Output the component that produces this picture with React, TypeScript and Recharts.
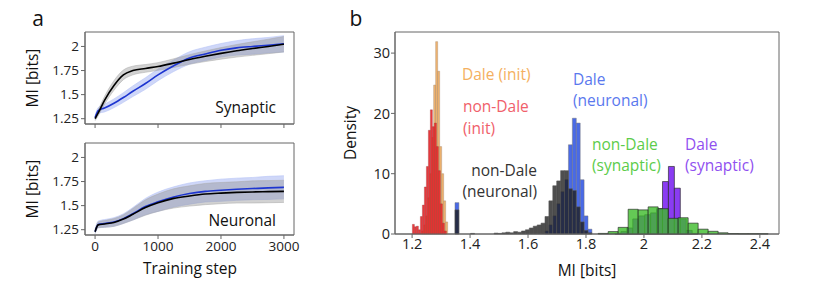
import { ComposedChart, Area, Line, Scatter, XAxis, YAxis, ReferenceArea } from 'recharts';

// ---- panel a: MI during training ----
const STEPS = [0, 50, 150, 300, 450, 600, 800, 1000, 1250, 1500, 1750, 2000, 2250, 2500, 2750, 3000];

const SYN_NONDALE = [1.25, 1.31, 1.44, 1.595, 1.705, 1.75, 1.772, 1.792, 1.827, 1.865, 1.898, 1.928, 1.955, 1.978, 2.0, 2.023];
const SYN_DALE = [1.26, 1.335, 1.36, 1.41, 1.47, 1.535, 1.615, 1.705, 1.8, 1.88, 1.922, 1.96, 1.985, 2.0, 2.013, 2.027];
const SYN_NONDALE_SD = [0.02, 0.03, 0.04, 0.05, 0.05, 0.045, 0.04, 0.04, 0.045, 0.05, 0.055, 0.06, 0.065, 0.07, 0.075, 0.08];
const SYN_DALE_SD = [0.02, 0.03, 0.04, 0.045, 0.05, 0.055, 0.06, 0.06, 0.06, 0.065, 0.07, 0.07, 0.075, 0.08, 0.08, 0.085];

const NEU_NONDALE = [1.23, 1.3, 1.31, 1.325, 1.36, 1.41, 1.48, 1.53, 1.575, 1.6, 1.62, 1.63, 1.637, 1.642, 1.645, 1.648];
const NEU_DALE = [1.23, 1.305, 1.315, 1.33, 1.365, 1.415, 1.49, 1.54, 1.59, 1.625, 1.648, 1.66, 1.67, 1.677, 1.684, 1.69];
const NEU_NONDALE_SD = [0.02, 0.03, 0.035, 0.04, 0.045, 0.06, 0.08, 0.09, 0.1, 0.105, 0.11, 0.11, 0.11, 0.115, 0.115, 0.115];
const NEU_DALE_SD = [0.02, 0.035, 0.04, 0.045, 0.05, 0.065, 0.085, 0.1, 0.105, 0.11, 0.11, 0.115, 0.115, 0.115, 0.12, 0.12];

const A_YTICKS = [1.25, 1.5, 1.75, 2];
const A_XTICKS = [0, 1000, 2000, 3000];

// ---- panel b: histograms of final MI ----
const INIT_BIN = 0.0069;
const INIT_NONDALE_START = 1.201;
const INIT_NONDALE = [1.6, 1.2, 1.3, 0.7, 2.9, 4.8, 7.8, 11.2, 17.2, 20.6, 17.8, 18.4, 14.5, 10.5, 5.0, 1.8, 0.5];
const INIT_DALE_START = 1.233;
const INIT_DALE = [0.5, 1.5, 3, 6, 10, 16, 24.7, 31.9, 27, 14.5, 10, 5.5, 2];

const NEU_BIN = 0.0135;
const NEU_START = 1.348;
const NEU_NONDALE_HIST = [4.0, 0, 0, 0, 0.1, 0, 0, 0, 0, 0, 0.15, 0.1, 0.2, 0.3, 0.2, 0.4, 0.3, 0.5, 0.7, 1.0, 1.3, 1.5, 1.8, 2.9, 5.5, 8.0, 8.8, 10.5, 10.5, 7.5, 7.2, 4.5, 2.0, 0.6, 0.2];
const NEU_DALE_HIST = [5.2, 0, 0, 0, 0, 0, 0, 0, 0, 0, 0, 0, 0, 0, 0, 0, 0, 0, 0, 0, 0, 0, 0, 0.5, 1.5, 3, 5, 7, 9, 14.8, 19.2, 18.4, 9, 3, 0.8];

const SYN_NONDALE_BIN = 0.0345;
const SYN_NONDALE_START = 1.842;
const SYN_NONDALE_HIST = [0.1, 0.4, 1.1, 4.1, 4.0, 4.5, 4.2, 2.6, 2.7, 1.8, 0.8, 0.45, 0.2, 0.08, 0.05, 0.05, 0.04];
const SYN_DALE_BIN = 0.0205;
const SYN_DALE_START = 1.9;
const SYN_DALE_HIST = [0.1, 0.4, 1.0, 2.5, 3.0, 3.2, 3.5, 4.2, 8.7, 11.2, 7.6, 2.5, 0.6, 0.1];

const B_XTICKS = [1.2, 1.4, 1.6, 1.8, 2, 2.2, 2.4];
const B_YTICKS = [0, 10, 20, 30];

const FONT = '"Open Sans", sans-serif';
const AXIS = '#666';
const TICK_TEXT = { fontSize: 13.5, fill: '#222', fontFamily: FONT };

const synData = STEPS.map((s, i) => ({
  step: s,
  nd: SYN_NONDALE[i],
  d: SYN_DALE[i],
  ndBand: [SYN_NONDALE[i] - SYN_NONDALE_SD[i], SYN_NONDALE[i] + SYN_NONDALE_SD[i]],
  dBand: [SYN_DALE[i] - SYN_DALE_SD[i], SYN_DALE[i] + SYN_DALE_SD[i]],
}));
const neuData = STEPS.map((s, i) => ({
  step: s,
  nd: NEU_NONDALE[i],
  d: NEU_DALE[i],
  ndBand: [NEU_NONDALE[i] - NEU_NONDALE_SD[i], NEU_NONDALE[i] + NEU_NONDALE_SD[i]],
  dBand: [NEU_DALE[i] - NEU_DALE_SD[i], NEU_DALE[i] + NEU_DALE_SD[i]],
}));

type Bin = { x0: number; x1: number; h: number };
const toBins = (start: number, width: number, heights: number[]): Bin[] =>
  heights.map((h, i) => ({ x0: start + i * width, x1: start + (i + 1) * width, h })).filter((b) => b.h > 0);

const histograms = [
  { bins: toBins(INIT_DALE_START, INIT_BIN, INIT_DALE), fill: '#efa24a', opacity: 0.8, stroke: '#a08870', sw: 0.5 },
  { bins: toBins(INIT_NONDALE_START, INIT_BIN, INIT_NONDALE), fill: '#ee2b30', opacity: 0.92, stroke: '#8a3030', sw: 0.4 },
  { bins: toBins(NEU_START, NEU_BIN, NEU_DALE_HIST), fill: '#3f62e6', opacity: 0.95, stroke: '#777', sw: 0.6 },
  { bins: toBins(NEU_START, NEU_BIN, NEU_NONDALE_HIST), fill: '#1c1c1c', opacity: 0.78, stroke: '#555', sw: 0.7 },
  { bins: toBins(SYN_DALE_START, SYN_DALE_BIN, SYN_DALE_HIST), fill: '#8a3cf2', opacity: 1, stroke: '#222', sw: 0.8 },
  { bins: toBins(SYN_NONDALE_START, SYN_NONDALE_BIN, SYN_NONDALE_HIST), fill: '#3dbb2a', opacity: 0.8, stroke: '#222', sw: 0.8 },
];

const anchor = histograms.flatMap((h) => h.bins.map((b) => ({ x: (b.x0 + b.x1) / 2, y: b.h })));

const TrainingPanel = ({ showTicks }: { showTicks: boolean }) => (
  <>
    <ReferenceArea x1={-160} x2={3160} y1={1.195} y2={2.15} fill="none" stroke={AXIS} strokeWidth={1} />
    <Area dataKey="dBand" type="monotone" fill="#9fb0f2" fillOpacity={0.5} stroke="#b8c4f6" strokeOpacity={0.6} isAnimationActive={false} />
    <Area dataKey="ndBand" type="monotone" fill="#8a8a8a" fillOpacity={0.38} stroke="#aaa" strokeOpacity={0.5} isAnimationActive={false} />
    <Line dataKey="d" type="monotone" stroke="#1d35d0" strokeWidth={1.6} dot={false} isAnimationActive={false} />
    <Line dataKey="nd" type="monotone" stroke="#000" strokeWidth={1.6} dot={false} isAnimationActive={false} />
    <XAxis
      dataKey="step"
      type="number"
      domain={[-160, 3160]}
      ticks={A_XTICKS}
      allowDataOverflow
      stroke={AXIS}
      tickSize={4}
      tickMargin={2}
      height={showTicks ? 30 : 6}
      tick={TICK_TEXT}
      tickFormatter={showTicks ? (v: number) => String(v) : () => ''}
    />
    <YAxis
      type="number"
      domain={[1.195, 2.15]}
      ticks={A_YTICKS}
      allowDataOverflow
      width={85}
      stroke={AXIS}
      tickSize={4}
      tickMargin={2}
      tick={TICK_TEXT}
    />
  </>
);

export default function App() {
  return (
    <div style={{ position: 'absolute', left: 0, top: 0, width: 830, height: 301, background: '#fff', fontFamily: FONT }}>
      <div style={{ position: 'absolute', left: 0, top: 0 }}>
        <ComposedChart width={300} height={130} data={synData} margin={{ top: 32, right: 6, bottom: 0, left: 0 }}>
          {TrainingPanel({ showTicks: false })}
        </ComposedChart>
      </div>
      <div style={{ position: 'absolute', left: 0, top: 130 }}>
        <ComposedChart width={300} height={171} data={neuData} margin={{ top: 13, right: 6, bottom: 36, left: 0 }}>
          {TrainingPanel({ showTicks: true })}
        </ComposedChart>
      </div>
      <div style={{ position: 'absolute', left: 330, top: 0 }}>
        <ComposedChart width={500} height={301} margin={{ top: 32, right: 51, bottom: 37, left: 0 }}>
          <XAxis
            dataKey="x"
            type="number"
            domain={[1.141, 2.466]}
            ticks={B_XTICKS}
            allowDataOverflow
            stroke={AXIS}
            tickSize={4}
            tickMargin={1}
            height={30}
            tick={{ ...TICK_TEXT, fontSize: 14.5 }}
            tickFormatter={(v: number) => String(v)}
          />
          <YAxis
            dataKey="y"
            type="number"
            domain={[0, 33.5]}
            ticks={B_YTICKS}
            allowDataOverflow
            width={65}
            stroke={AXIS}
            tickSize={4}
            tickMargin={1}
            tick={{ ...TICK_TEXT, fontSize: 14.5 }}
          />
          <ReferenceArea x1={1.141} x2={2.466} y1={0} y2={33.5} fill="none" stroke={AXIS} strokeWidth={1} />
          {histograms.map((h, k) =>
            h.bins.map((b, i) => (
              <ReferenceArea
                key={`${k}-${i}`}
                x1={b.x0}
                x2={b.x1}
                y1={0}
                y2={b.h}
                fill={h.fill}
                fillOpacity={h.opacity}
                stroke={h.stroke}
                strokeWidth={h.sw}
                strokeOpacity={0.8}
              />
            ))
          )}
          <Scatter data={anchor} fill="transparent" isAnimationActive={false} />
        </ComposedChart>
      </div>
      <svg width={830} height={301} style={{ position: 'absolute', left: 0, top: 0, pointerEvents: 'none' }} fontFamily={FONT}>
        <text x={38} y={18} fontSize={21} textAnchor="middle" dominantBaseline="central" fill="#111">a</text>
        <text x={356} y={18} fontSize={21} textAnchor="middle" dominantBaseline="central" fill="#111">b</text>
        <text x={32} y={78} fontSize={15.5} textAnchor="middle" dominantBaseline="central" transform="rotate(-90 32 78)" fill="#111">MI [bits]</text>
        <text x={32} y={189} fontSize={15.5} textAnchor="middle" dominantBaseline="central" transform="rotate(-90 32 189)" fill="#111">MI [bits]</text>
        <text x={190} y={268} fontSize={15.5} textAnchor="middle" dominantBaseline="central" fill="#111">Training step</text>
        <text x={276} y={107} fontSize={15.5} textAnchor="end" dominantBaseline="central" fill="#111">Synaptic</text>
        <text x={276} y={220} fontSize={15.5} textAnchor="end" dominantBaseline="central" fill="#111">Neuronal</text>
        <text x={350} y={133} fontSize={15.5} textAnchor="middle" dominantBaseline="central" transform="rotate(-90 350 133)" fill="#111">Density</text>
        <text x={587} y={270} fontSize={15.5} textAnchor="middle" dominantBaseline="central" fill="#111">MI [bits]</text>
        <g fontSize={15.5} dominantBaseline="central">
          <text x={462} y={74} fill="#f4b060">Dale (init)</text>
          <text x={463} y={106} fill="#f0606a">non-Dale</text>
          <text x={463} y={128} fill="#f0606a">(init)</text>
          <text x={537} y={170} fill="#333" textAnchor="end">non-Dale</text>
          <text x={537} y={191} fill="#333" textAnchor="end">(neuronal)</text>
          <text x={573} y={79} fill="#5a78ee">Dale</text>
          <text x={573} y={100} fill="#5a78ee">(neuronal)</text>
          <text x={592} y={144} fill="#5ccc4a">non-Dale</text>
          <text x={592} y={165} fill="#5ccc4a">(synaptic)</text>
          <text x={685} y={144} fill="#9050f0">Dale</text>
          <text x={685} y={165} fill="#9050f0">(synaptic)</text>
        </g>
      </svg>
    </div>
  );
}
